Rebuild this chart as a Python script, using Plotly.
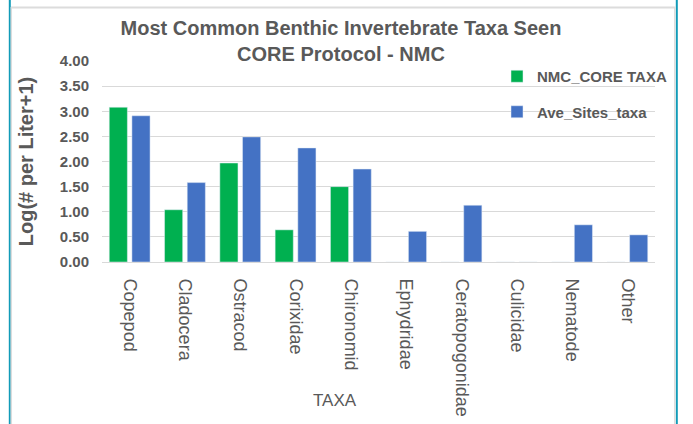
import plotly.graph_objects as go

# Taxa on the category axis
taxa = ["Copepod", "Cladocera", "Ostracod", "Corixidae", "Chironomid",
        "Ephydridae", "Ceratopogonidae", "Culicidae", "Nematode", "Other"]

# Log(# per Liter + 1) for the NMC site and the average over all sites
nmc_core = [3.08, 1.04, 1.97, 0.64, 1.50, 0, 0, 0, 0, 0]
ave_sites = [2.91, 1.58, 2.49, 2.27, 1.85, 0.61, 1.13, 0, 0.74, 0.54]

y_ticks = [0, 0.5, 1.0, 1.5, 2.0, 2.5, 3.0, 3.5, 4.0]

W, H = 693, 424
ML, MR, MT, MB = 102, 38, 61, 162
PW, PH = W - ML - MR, H - MT - MB

GRAY = "#595959"
FONT = "Liberation Sans, Arial, sans-serif"


def px_x(x):
    return (x - ML) / PW


def px_y(y):
    return (H - MB - y) / PH


fig = go.Figure()
fig.add_trace(go.Bar(name="NMC_CORE TAXA", x=taxa, y=nmc_core,
                     marker_color="#00B050", legendgroup="a"))
fig.add_trace(go.Bar(name="Ave_Sites_taxa", x=taxa, y=ave_sites,
                     marker_color="#4472C4", legendgroup="b"))

# outer panel frame: teal side rules and a light inner border
frame = [
    dict(x0=px_x(9.8), x1=px_x(9.8), y0=px_y(0), y1=px_y(H), color="#119BB8", w=2),
    dict(x0=px_x(676.8), x1=px_x(676.8), y0=px_y(0), y1=px_y(H), color="#119BB8", w=2),
    dict(x0=px_x(11.3), x1=px_x(11.3), y0=px_y(7), y1=px_y(H), color="#DCDCDC", w=1.5),
    dict(x0=px_x(674.8), x1=px_x(674.8), y0=px_y(7), y1=px_y(H), color="#DCDCDC", w=1.5),
    dict(x0=px_x(11), x1=px_x(675.5), y0=px_y(7.5), y1=px_y(7.5), color="#DCDCDC", w=2),
]
for f in frame:
    fig.add_shape(type="line", xref="paper", yref="paper",
                  x0=f["x0"], x1=f["x1"], y0=f["y0"], y1=f["y1"],
                  line=dict(color=f["color"], width=f["w"]))

fig.add_annotation(text="TAXA", xref="paper", yref="paper",
                   x=px_x(335), y=px_y(400), showarrow=False,
                   xanchor="center", yanchor="middle",
                   font=dict(family=FONT, size=17, color=GRAY))

fig.update_layout(
    width=W, height=H,
    margin=dict(l=ML, r=MR, t=MT, b=MB, autoexpand=False),
    paper_bgcolor="white", plot_bgcolor="white",
    font=dict(family=FONT, color=GRAY),
    title=dict(text="<b>Most Common Benthic Invertebrate Taxa Seen<br>CORE Protocol - NMC</b>",
               x=341 / W, xanchor="center", xref="container",
               y=1 - 35 / H, yanchor="top", yref="container",
               font=dict(family=FONT, size=20, color=GRAY)),
    barmode="group", bargap=0.18, bargroupgap=0.2,
    legend=dict(x=px_x(497), y=px_y(60), xanchor="left", yanchor="top",
                bgcolor="rgba(0,0,0,0)", traceorder="grouped", tracegroupgap=13,
                font=dict(family=FONT, size=15, color=GRAY, weight="bold"),
                itemclick=False),
    xaxis=dict(tickangle=90, tickfont=dict(family=FONT, size=18, color=GRAY),
               showgrid=False, showline=True, linecolor="#D9D9D9", linewidth=1,
               ticks="", ticklabelstandoff=12),
    yaxis=dict(range=[0, 4], tickvals=y_ticks, tickformat=".2f",
               tickfont=dict(family=FONT, size=15, color=GRAY, weight="bold"),
               showgrid=True, gridcolor="#D9D9D9", gridwidth=1,
               zeroline=False, ticks="", ticklabelstandoff=12,
               title=dict(text="<b>Log(# per Liter+1)</b>", standoff=20,
                          font=dict(family=FONT, size=20, color=GRAY))),
)

fig.write_html("out.html")
